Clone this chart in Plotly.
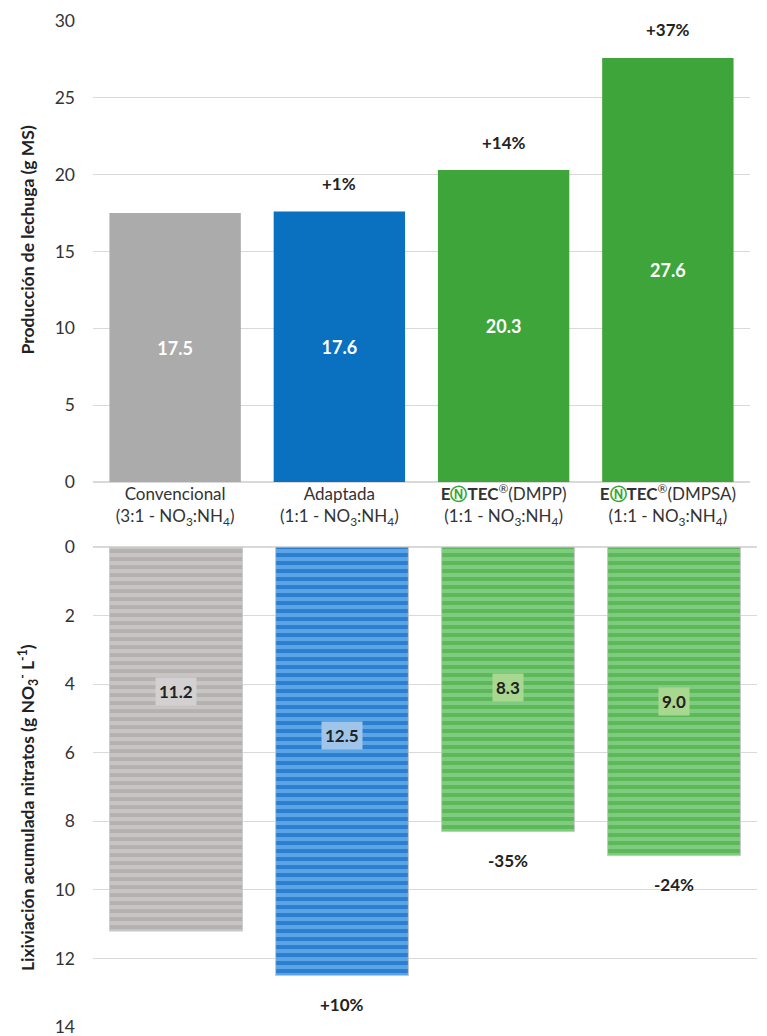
import plotly.graph_objects as go

categories = ["Convencional", "Adaptada", "ENTEC DMPP", "ENTEC DMPSA"]
cat_labels = [
    "Convencional<br>(3:1 - NO<sub>3</sub>:NH<sub>4</sub>)",
    "Adaptada<br>(1:1 - NO<sub>3</sub>:NH<sub>4</sub>)",
    "<b>E<span style='color:#3aa635'>Ⓝ</span>TEC</b><sup>®</sup>(DMPP)<br>(1:1 - NO<sub>3</sub>:NH<sub>4</sub>)",
    "<b>E<span style='color:#3aa635'>Ⓝ</span>TEC</b><sup>®</sup>(DMPSA)<br>(1:1 - NO<sub>3</sub>:NH<sub>4</sub>)",
]
produccion = [17.5, 17.6, 20.3, 27.6]
prod_pct = ["", "+1%", "+14%", "+37%"]
lixiviacion = [11.2, 12.5, 8.3, 9.0]
lix_pct = ["", "+10%", "-35%", "-24%"]
lix_label_pos = [4.2, 5.5, 4.1, 4.5]
top_ticks = [0, 5, 10, 15, 20, 25, 30]
bottom_ticks = [0, 2, 4, 6, 8, 10, 12, 14]

top_title = "<b>Producción de lechuga (g MS)</b>"
bottom_title = "<b>Lixiviación acumulada nitratos (g NO<sub>3</sub><sup>-</sup> L<sup>-1</sup>)</b>"

top_colors = ["#ababab", "#0a70c0", "#3ea53a", "#3ea53a"]
bot_bg = ["#c8c5c5", "#2b7fd0", "#5cb85a", "#5cb85a"]
bot_fg = ["#b5b1b1", "#5ca4e4", "#80cc7e", "#80cc7e"]
box_colors = ["#d2d0d0", "#9fc6ea", "#a8d88f", "#a8d88f"]

FONT = "Lato"
TOP_DOM = [0.5417, 1.0]
BOT_DOM = [0.0, 0.4771]
X_START = 0.0264

fig = go.Figure()

fig.add_trace(go.Bar(
    x=categories, y=produccion, xaxis="x", yaxis="y",
    marker=dict(color=top_colors, line=dict(width=0)),
    width=0.8,
    text=[f"{v:.1f}" for v in produccion], textposition="inside",
    insidetextanchor="middle",
    textfont=dict(family=FONT, size=18, color="white", weight="bold"),
    showlegend=False,
))

for c, v, bg, fg in zip(categories, lixiviacion, bot_bg, bot_fg):
    fig.add_trace(go.Bar(
        x=[c], y=[v], xaxis="x2", yaxis="y2",
        marker=dict(color=bg, line=dict(width=1, color="#c8c8c8"),
                    pattern=dict(shape="-", bgcolor=bg, fgcolor=fg, fgopacity=1,
                                 size=8, solidity=0.5, fillmode="overlay")),
        width=0.8,
        showlegend=False,
    ))

annotations = []
for c, v, p in zip(categories, produccion, prod_pct):
    if p:
        annotations.append(dict(x=c, y=v, xref="x", yref="y", text=f"<b>{p}</b>",
                                showarrow=False, yshift=28,
                                font=dict(family=FONT, size=17, color="#222")))
for c, v, p, lp, bc in zip(categories, lixiviacion, lix_pct, lix_label_pos, box_colors):
    annotations.append(dict(x=c, y=lp, xref="x2", yref="y2", text=f"<b>{v:.1f}</b>",
                            showarrow=False, bgcolor=bc, borderpad=3,
                            font=dict(family=FONT, size=17, color="#222")))
    if p:
        annotations.append(dict(x=c, y=v, xref="x2", yref="y2", text=f"<b>{p}</b>",
                                showarrow=False, yshift=-29,
                                font=dict(family=FONT, size=17, color="#222")))

annotations.append(dict(text=top_title, xref="paper", yref="paper", x=-0.069,
                        y=sum(TOP_DOM) / 2 + 0.012, textangle=-90, showarrow=False,
                        xanchor="center", yanchor="middle",
                        font=dict(family=FONT, size=17.5, color="#222")))
annotations.append(dict(text=bottom_title, xref="paper", yref="paper", x=-0.069,
                        y=sum(BOT_DOM) / 2 - 0.020, textangle=-90, showarrow=False,
                        xanchor="center", yanchor="middle",
                        font=dict(family=FONT, size=17.5, color="#222")))

fig.update_layout(
    width=759, height=1040,
    margin=dict(l=67, r=10, t=13, b=21, autoexpand=False),
    paper_bgcolor="white", plot_bgcolor="white",
    font=dict(family=FONT, size=15, color="#333"),
    barmode="overlay",
    xaxis=dict(domain=[X_START, 0.9897], anchor="y", tickmode="array", tickvals=categories,
               ticktext=cat_labels, tickfont=dict(family=FONT, size=17, color="#333"),
               showgrid=False, showline=False, ticks="", automargin=False),
    yaxis=dict(domain=TOP_DOM, range=[0, 30], tickmode="array", tickvals=top_ticks,
               anchor="free", position=0,
               showgrid=True, gridcolor="#d9d9d9", zeroline=True, zerolinecolor="#d9d9d9",
               tickfont=dict(family=FONT, size=17.5, color="#333"),
               showline=False, ticks="", automargin=False),
    xaxis2=dict(domain=[X_START, 1.0], anchor="y2", tickmode="array", tickvals=categories,
                showticklabels=False, showgrid=False, showline=False, ticks="",
                automargin=False),
    yaxis2=dict(domain=BOT_DOM, range=[14, 0], tickmode="array", tickvals=bottom_ticks,
                anchor="free", position=0,
                showgrid=True, gridcolor="#d9d9d9", zeroline=True, zerolinecolor="#d9d9d9",
                tickfont=dict(family=FONT, size=17.5, color="#333"),
                showline=False, ticks="", automargin=False),
    annotations=annotations,
)

fig.write_html("out.html")
